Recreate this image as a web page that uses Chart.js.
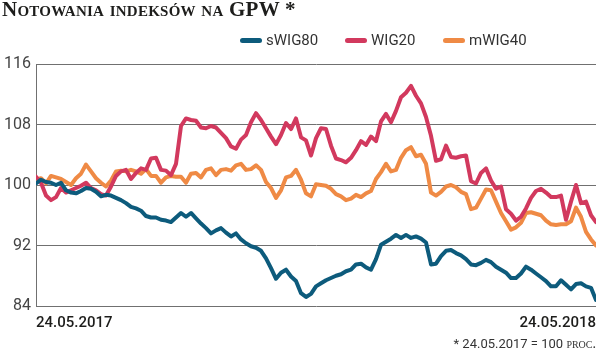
<!DOCTYPE html>
<html><head><meta charset="utf-8">
<script src="https://cdn.jsdelivr.net/npm/chart.js@4.4.1/dist/chart.umd.min.js"></script>
<style>
html,body{margin:0;padding:0;background:#fff;}
#wrap{position:relative;width:600px;height:355px;overflow:hidden;}
#c{position:absolute;left:0;top:0;}
#title{position:absolute;left:2px;top:-1px;font:bold 21px/20px 'Liberation Serif',serif;font-variant:small-caps;letter-spacing:0.25px;color:#1d1d1b;white-space:nowrap;}
#legend{position:absolute;left:0;top:31px;width:600px;height:20px;font:15px/18px Roboto,sans-serif;color:#333;}
.item{position:absolute;top:0;display:flex;align-items:center;height:18px;}
.sw{width:22px;height:5px;border-radius:3px;margin-right:4px;}
#note{position:absolute;right:4px;top:337px;font:13px/14px Roboto,sans-serif;color:#333;white-space:nowrap;}
#note .sc{font-family:'Liberation Serif',serif;font-variant:small-caps;font-size:14px;}
</style></head>
<body>
<div id="wrap">
<canvas id="c" width="600" height="355"></canvas>
<div id="title">Notowania indeksów na GPW *</div>
<div id="legend"></div>
<div id="note">* 24.05.2017 = 100 <span class="sc">proc.</span></div>
</div>
<script>
const xTickLabels = ['24.05.2017', '24.05.2018'];
const yTicks = [84, 92, 100, 108, 116];
const seriesNames = ['sWIG80', 'WIG20', 'mWIG40'];
const seriesColors = ['#0d5b7c', '#d2395e', '#ef8a45'];

const sWIG80 = [100.2,100.7,100.4,100.3,100.0,100.3,99.3,99.0,98.9,99.2,99.6,99.5,99.1,98.5,98.7,98.6,98.3,98.0,97.6,97.1,
96.9,96.6,95.9,95.7,95.7,95.4,95.3,95.1,95.7,96.3,95.8,96.3,95.6,94.9,94.3,93.6,94.0,94.3,93.7,93.2,
93.6,92.8,92.3,91.9,91.7,91.3,90.3,89.0,87.6,88.4,88.8,87.9,87.3,85.7,85.2,85.6,86.6,87.0,87.4,87.7,
88.0,88.2,88.6,88.8,89.5,89.6,89.1,88.8,90.2,92.1,92.5,92.9,93.4,93.0,93.4,93.0,93.2,92.9,92.4,89.5,
89.6,90.6,91.3,91.4,91.0,90.7,90.2,89.5,89.4,89.7,90.1,89.8,89.2,88.8,88.4,87.7,87.7,88.3,89.2,88.8,
88.3,87.8,87.3,86.6,86.6,87.4,86.8,86.2,86.9,87.0,86.6,86.4,84.8];

const WIG20 = [101.1,100.3,98.6,98.0,98.4,99.6,99.0,99.3,99.6,99.9,100.3,99.6,99.3,98.8,98.6,99.8,101.2,101.8,102.0,100.8,
101.6,102.2,102.0,103.5,103.6,102.0,101.9,101.3,102.8,107.8,108.8,108.6,108.5,107.6,107.5,107.8,107.6,106.9,106.2,105.1,
104.8,106.0,106.6,108.3,109.5,108.6,107.5,106.4,105.4,106.6,108.2,107.4,108.8,106.3,105.9,103.9,106.2,107.5,107.4,105.2,
103.5,103.3,103.0,103.6,104.6,105.8,105.3,106.4,105.8,108.4,109.4,108.3,109.8,111.6,112.2,113.1,111.8,110.8,109.0,106.5,
103.2,103.4,105.2,103.7,103.6,103.8,103.9,100.5,100.2,101.6,102.2,100.6,99.5,99.8,96.8,96.2,95.3,95.8,96.9,98.3,
99.2,99.5,99.0,98.4,98.4,98.6,95.4,97.8,100.0,97.6,97.8,96.0,95.1];

const mWIG40 = [100.7,100.9,100.2,101.2,101.0,100.8,100.4,100.0,100.9,101.5,102.7,101.8,100.9,100.3,99.8,100.6,101.8,101.9,101.8,102.0,
101.8,101.5,102.1,101.2,101.2,100.3,101.0,101.2,101.1,101.1,100.3,101.5,101.6,101.0,102.0,102.2,101.3,102.0,102.1,101.9,
102.6,102.8,102.0,102.1,102.6,102.0,100.4,99.6,98.3,99.3,101.0,101.2,102.0,100.7,98.9,98.5,100.1,100.0,99.9,99.5,
98.8,98.5,98.0,98.2,98.7,98.4,98.9,99.2,100.8,101.7,102.8,101.8,102.0,103.6,104.6,105.0,103.8,104.0,102.8,99.0,
98.6,99.1,99.8,100.0,99.7,99.1,98.8,96.8,97.0,98.2,99.4,99.3,97.8,96.3,95.2,94.1,94.4,95.0,96.3,96.4,
96.2,96.0,95.3,94.8,94.7,94.8,94.8,95.2,97.0,95.8,93.8,92.8,92.0];

const series = [sWIG80, WIG20, mWIG40];
const N = sWIG80.length;
const toXY = a => a.map((v, i) => ({ x: i, y: v }));

// HTML legend built from the series names/colours
const legendLeft = [240, 345, 443];
const leg = document.getElementById('legend');
seriesNames.forEach((n, k) => {
  const it = document.createElement('div'); it.className = 'item'; it.style.left = legendLeft[k] + 'px';
  const sw = document.createElement('span'); sw.className = 'sw'; sw.style.background = seriesColors[k];
  const tx = document.createElement('span'); tx.textContent = n;
  it.appendChild(sw); it.appendChild(tx); leg.appendChild(it);
});

const tickFont = "Roboto, sans-serif";

new Chart(document.getElementById('c'), {
  type: 'line',
  data: {
    datasets: series.map((d, k) => ({
      label: seriesNames[k], data: toXY(d),
      borderColor: seriesColors[k], backgroundColor: seriesColors[k],
      borderWidth: 4, pointRadius: 0, tension: 0, fill: false,
      borderJoinStyle: 'round', borderCapStyle: 'round'
    }))
  },
  options: {
    responsive: false, animation: false, devicePixelRatio: 1,
    layout: { padding: { top: 64, right: 4, left: 0, bottom: 0 } },
    plugins: { legend: { display: false }, tooltip: { enabled: false }, title: { display: false } },
    scales: {
      x: {
        type: 'linear', min: 0, max: N - 1,
        grid: { display: false }, border: { display: false },
        afterBuildTicks: s => { s.ticks = [{ value: 0 }, { value: N - 1 }]; },
        afterFit: s => { s.height = 49; },
        ticks: {
          autoSkip: false, maxRotation: 0, minRotation: 0, align: 'inner', padding: 0,
          color: '#1d1d1b', font: { family: tickFont, size: 15, weight: '500' },
          callback: (v, i) => xTickLabels[i]
        }
      },
      y: {
        min: 84, max: 116,
        afterBuildTicks: s => { s.ticks = yTicks.map(v => ({ value: v })); },
        afterFit: s => { s.width = 36; },
        grid: { color: '#707070', lineWidth: 1, drawTicks: false },
        border: { display: true, color: '#707070', width: 1 },
        ticks: { padding: 5, color: '#444', font: { family: tickFont, size: 16 } }
      }
    }
  }
});
</script>
</body></html>
